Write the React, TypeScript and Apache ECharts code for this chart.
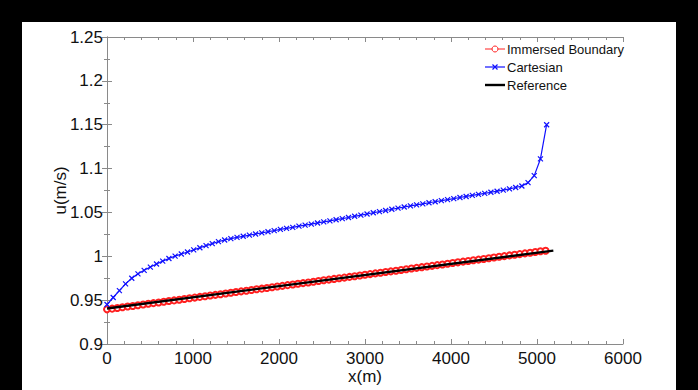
import React, { useEffect, useRef } from "react";
import * as echarts from "echarts";

const xTicks = [0, 1000, 2000, 3000, 4000, 5000, 6000];
const yTicks = [0.9, 0.95, 1, 1.05, 1.1, 1.15, 1.2, 1.25];

const seriesNames = ["Immersed Boundary", "Cartesian", "Reference"];

const ibX = [
  0, 60, 120, 180, 240, 300, 360, 420, 480, 540,
  600, 660, 720, 780, 840, 900, 960, 1020, 1080, 1140,
  1200, 1260, 1320, 1380, 1440, 1500, 1560, 1620, 1680, 1740,
  1800, 1860, 1920, 1980, 2040, 2100, 2160, 2220, 2280, 2340,
  2400, 2460, 2520, 2580, 2640, 2700, 2760, 2820, 2880, 2940,
  3000, 3060, 3120, 3180, 3240, 3300, 3360, 3420, 3480, 3540,
  3600, 3660, 3720, 3780, 3840, 3900, 3960, 4020, 4080, 4140,
  4200, 4260, 4320, 4380, 4440, 4500, 4560, 4620, 4680, 4740,
  4800, 4860, 4920, 4980, 5040, 5100,
];
const ibU = [
  0.9395, 0.9403, 0.9411, 0.9419, 0.9427, 0.9434, 0.9442, 0.945, 0.9458, 0.9466,
  0.9474, 0.9482, 0.949, 0.9497, 0.9505, 0.9513, 0.9521, 0.9529, 0.9537, 0.9545,
  0.9553, 0.956, 0.9568, 0.9576, 0.9584, 0.9592, 0.96, 0.9608, 0.9616, 0.9624,
  0.9631, 0.9639, 0.9647, 0.9655, 0.9663, 0.9671, 0.9679, 0.9687, 0.9694, 0.9702,
  0.971, 0.9718, 0.9726, 0.9734, 0.9742, 0.975, 0.9757, 0.9765, 0.9773, 0.9781,
  0.9789, 0.9797, 0.9805, 0.9813, 0.9821, 0.9828, 0.9836, 0.9844, 0.9852, 0.986,
  0.9868, 0.9876, 0.9884, 0.9891, 0.9899, 0.9907, 0.9915, 0.9923, 0.9931, 0.9939,
  0.9947, 0.9954, 0.9962, 0.997, 0.9978, 0.9986, 0.9994, 1.0002, 1.001, 1.0018,
  1.0025, 1.0033, 1.0041, 1.0049, 1.0057, 1.0064,
];

const cartX = [
  0, 72, 144, 216, 288, 360, 432, 504, 576, 648,
  720, 792, 864, 936, 1008, 1080, 1152, 1224, 1296, 1368,
  1440, 1512, 1584, 1656, 1728, 1800, 1872, 1944, 2016, 2088,
  2160, 2232, 2304, 2376, 2448, 2520, 2592, 2664, 2736, 2808,
  2880, 2952, 3024, 3096, 3168, 3240, 3312, 3384, 3456, 3528,
  3600, 3672, 3744, 3816, 3888, 3960, 4032, 4104, 4176, 4248,
  4320, 4392, 4464, 4536, 4608, 4680, 4752, 4824, 4896, 4968,
  5040, 5112,
];
const cartU = [
  0.945, 0.953, 0.9608, 0.9685, 0.975, 0.98, 0.984, 0.9877, 0.9912, 0.9945,
  0.9975, 1.0002, 1.0026, 1.0049, 1.0073, 1.0097, 1.0122, 1.0145, 1.0168, 1.0186,
  1.0201, 1.0215, 1.0228, 1.0241, 1.0254, 1.0267, 1.028, 1.0293, 1.0306, 1.0318,
  1.033, 1.0343, 1.0355, 1.0367, 1.038, 1.0392, 1.0404, 1.0417, 1.0429, 1.0442,
  1.0456, 1.0469, 1.0482, 1.0496, 1.0509, 1.0522, 1.0536, 1.0549, 1.0562, 1.0574,
  1.0586, 1.0598, 1.061, 1.0622, 1.0634, 1.0646, 1.0658, 1.067, 1.0682, 1.0694,
  1.0706, 1.0718, 1.073, 1.0742, 1.0755, 1.0769, 1.0784, 1.0801, 1.084, 1.092,
  1.111, 1.15,
];

const refX = [0, 5190];
const refU = [0.9405, 1.0065];

const FONT = "'Liberation Sans', Arial, sans-serif";
const AXIS_COLOR = "#8a8a8a";
const RED = "#ff2020";
const BLUE = "#1010ff";

echarts.graphic.registerShape(
  "xmark",
  echarts.graphic.extendPath("M-2.5,-2.5L2.5,2.5M2.5,-2.5L-2.5,2.5", {})
);

export default function App() {
  const ref = useRef<HTMLDivElement>(null);

  useEffect(() => {
    document.body.style.margin = "0";
    if (!ref.current) return;
    const chart = echarts.init(ref.current, undefined, { renderer: "svg" });

    const zip = (xs: number[], ys: number[]) => xs.map((x, i) => [x, ys[i]]);

    const axisCommon = {
      axisLine: { show: true, lineStyle: { color: AXIS_COLOR, width: 1 } },
      axisTick: { show: true, inside: true, length: 5, lineStyle: { color: AXIS_COLOR } },
      minorTick: { show: true, splitNumber: 5, length: 3, lineStyle: { color: AXIS_COLOR } },
      splitLine: { show: false },
    };

    const lx0 = 463;
    const lx1 = 483;
    const lmid = (lx0 + lx1) / 2;
    const ltx = 485;
    const rows = [27, 45, 63];
    const textItem = (t: string, y: number) => ({
      type: "text",
      x: ltx,
      y,
      style: { text: t, fill: "#111", font: `13px ${FONT}`, textVerticalAlign: "middle", textAlign: "left" },
    });

    chart.setOption({
      animation: false,
      backgroundColor: "#ffffff",
      textStyle: { fontFamily: FONT },
      grid: { left: 85, top: 15, right: 53, bottom: 42, containLabel: false },
      graphic: [
        { type: "line", shape: { x1: lx0, y1: rows[0], x2: lx1, y2: rows[0] }, style: { stroke: RED, lineWidth: 1 } },
        { type: "circle", shape: { cx: lmid, cy: rows[0], r: 3 }, style: { stroke: RED, fill: "#fff", lineWidth: 1 } },
        textItem(seriesNames[0], rows[0]),
        { type: "line", shape: { x1: lx0, y1: rows[1], x2: lx1, y2: rows[1] }, style: { stroke: BLUE, lineWidth: 1.2 } },
        { type: "xmark", x: lmid, y: rows[1], style: { stroke: BLUE, fill: "none", lineWidth: 1.2 } },
        textItem(seriesNames[1], rows[1]),
        { type: "line", shape: { x1: lx0, y1: rows[2], x2: lx1, y2: rows[2] }, style: { stroke: "#000", lineWidth: 2.4 } },
        textItem(seriesNames[2], rows[2]),
      ],
      xAxis: [
        {
          type: "value",
          min: xTicks[0],
          max: xTicks[xTicks.length - 1],
          interval: 1000,
          position: "bottom",
          name: "x(m)",
          nameLocation: "middle",
          nameGap: 24,
          nameMoveOverlap: false,
          nameTextStyle: { fontFamily: FONT, fontSize: 17, color: "#111" },
          axisLabel: { fontFamily: FONT, fontSize: 17, color: "#111", margin: 6, formatter: (v: number) => String(v) },
          ...axisCommon,
        },
        {
          type: "value",
          min: xTicks[0],
          max: xTicks[xTicks.length - 1],
          interval: 1000,
          position: "top",
          axisLabel: { show: false },
          ...axisCommon,
        },
      ],
      yAxis: [
        {
          type: "value",
          min: yTicks[0],
          max: yTicks[yTicks.length - 1],
          interval: 0.05,
          position: "left",
          name: "u(m/s)",
          nameLocation: "middle",
          nameGap: 38,
          nameMoveOverlap: false,
          nameRotate: 90,
          nameTextStyle: { fontFamily: FONT, fontSize: 17, color: "#111" },
          axisLabel: { fontFamily: FONT, fontSize: 17, color: "#111", margin: 4, formatter: (v: number) => String(+v.toFixed(2)) },
          ...axisCommon,
          minorTick: { show: true, splitNumber: 2, length: 3, lineStyle: { color: AXIS_COLOR } },
        },
        {
          type: "value",
          min: yTicks[0],
          max: yTicks[yTicks.length - 1],
          interval: 0.05,
          position: "right",
          axisLabel: { show: false },
          ...axisCommon,
          minorTick: { show: true, splitNumber: 2, length: 3, lineStyle: { color: AXIS_COLOR } },
        },
      ],
      series: [
        {
          name: seriesNames[0],
          type: "line",
          data: zip(ibX, ibU),
          symbol: "emptyCircle",
          symbolSize: 6,
          showAllSymbol: true,
          itemStyle: { color: RED, borderWidth: 1 },
          lineStyle: { color: RED, width: 1 },
          z: 2,
        },
        {
          name: seriesNames[1],
          type: "line",
          data: zip(cartX, cartU),
          symbol: "path://M0,0L10,10M10,0L0,10",
          symbolSize: 5,
          showAllSymbol: true,
          itemStyle: { color: BLUE, borderColor: BLUE, borderWidth: 1.2 },
          lineStyle: { color: BLUE, width: 1.2 },
          z: 3,
        },
        {
          name: seriesNames[2],
          type: "line",
          data: zip(refX, refU),
          symbol: "none",
          lineStyle: { color: "#000000", width: 2.4 },
          z: 4,
        },
      ],
    });

    return () => chart.dispose();
  }, []);

  return (
    <div style={{ position: "relative", width: 698, height: 390, background: "#000" }}>
      <div
        ref={ref}
        style={{ position: "absolute", left: 22, top: 22, width: 654, height: 368, background: "#fff" }}
      />
    </div>
  );
}
